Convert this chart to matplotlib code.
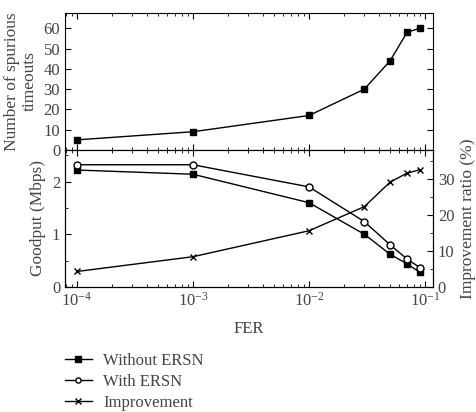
import matplotlib.pyplot as plt
from matplotlib.ticker import MultipleLocator, LogLocator, NullFormatter

fer = [1e-4, 1e-3, 1e-2, 0.03, 0.05, 0.07, 0.09]
spurious = [5, 9, 17, 30, 44, 58, 60]
goodput_without = [2.22, 2.14, 1.60, 1.00, 0.62, 0.44, 0.28]
goodput_with = [2.32, 2.32, 1.90, 1.24, 0.80, 0.53, 0.37]
improvement = [4.3, 8.4, 15.6, 22.3, 29.1, 31.6, 32.5]

plt.rcParams['font.family'] = ['Liberation Serif', 'DejaVu Serif']
plt.rcParams['font.size'] = 11
txt = '#444444'

fig = plt.figure(figsize=(4.77, 4.12), dpi=100)
W, H = 477, 412
ax1 = fig.add_axes([65 / W, (H - 150) / H, 368 / W, 137 / H])
ax2 = fig.add_axes([65 / W, (H - 287) / H, 368 / W, 137 / H])
ax3 = ax2.twinx()

ax1.plot(fer, spurious, '-', color='black', lw=1, marker='s', ms=5)
l1, = ax2.plot(fer, goodput_without, '-', color='black', lw=1, marker='s', ms=5)
l2, = ax2.plot(fer, goodput_with, '-', color='black', lw=1, marker='o', ms=5,
               mfc='white')
l3, = ax3.plot(fer, improvement, '-', color='black', lw=1, marker='x', ms=5)

for ax in (ax1, ax2):
    ax.set_xscale('log')
    ax.set_xlim(7.9e-5, 1.17e-1)
    ax.xaxis.set_major_locator(LogLocator(base=10))
    ax.xaxis.set_minor_locator(LogLocator(base=10, subs=range(2, 10)))
    ax.xaxis.set_minor_formatter(NullFormatter())

ax1.set_ylim(0, 67.5)
ax1.yaxis.set_major_locator(MultipleLocator(10))
ax1.tick_params(axis='x', labelbottom=False)
ax1.set_ylabel('Number of spurious\ntimeouts', color=txt, fontsize=12.5)

ax2.set_ylim(0, 2.6)
ax2.yaxis.set_major_locator(MultipleLocator(1))
ax2.yaxis.set_minor_locator(MultipleLocator(0.5))
ax2.set_ylabel('Goodput (Mbps)', color=txt, fontsize=12.5)
ax2.set_xlabel('FER', color=txt, fontsize=12, labelpad=8)

ax3.set_ylim(0, 38)
ax3.yaxis.set_major_locator(MultipleLocator(10))
ax3.yaxis.set_minor_locator(MultipleLocator(5))
ax3.set_ylabel('Improvement ratio (%)', color=txt, fontsize=12.5)

for ax in (ax1, ax2, ax3):
    ax.tick_params(which='both', direction='in', colors='black',
                   labelcolor=txt, labelsize=12)
    ax.tick_params(which='major', length=4)
    ax.tick_params(which='minor', length=2)
ax1.tick_params(which='both', top=True, right=True)
ax2.tick_params(which='both', top=True)

handles = [l1, l2, l3]
labels = ['Without ERSN', 'With ERSN', 'Improvement']
leg = fig.legend(handles, labels, loc='upper left',
                 bbox_to_anchor=(50 / W, (H - 338) / H), frameon=False,
                 fontsize=12, handlelength=1.6, handletextpad=0.7,
                 labelspacing=0.3, markerscale=0.75)
for t in leg.get_texts():
    t.set_color(txt)

fig.savefig('out.png', dpi=100)
